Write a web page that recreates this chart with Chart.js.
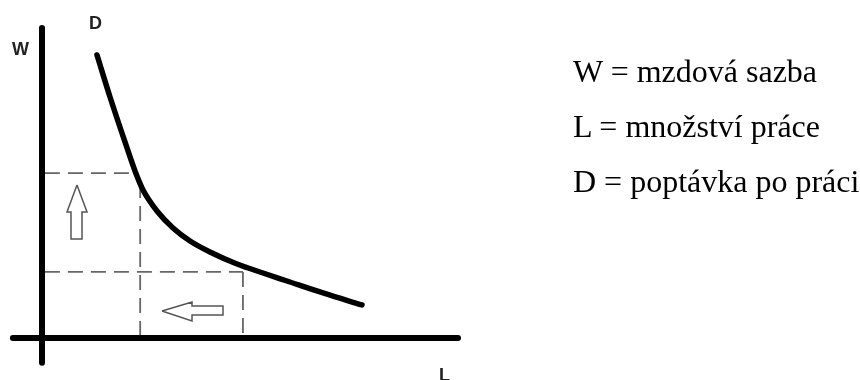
<!DOCTYPE html>
<html>
<head>
<meta charset="utf-8">
<script src="https://cdn.jsdelivr.net/npm/chart.js@4/dist/chart.umd.min.js"></script>
<style>
  html, body { margin: 0; padding: 0; background: #fff; overflow: hidden; }
  #wrap { position: relative; width: 860px; height: 380px; overflow: hidden; }
  canvas { position: absolute; left: 0; top: 0; }
  .lbl { position: absolute; font-family: "Liberation Sans", Arial, sans-serif; font-weight: bold; font-size: 18px; line-height: 18px; color: #222; white-space: nowrap; }
  .leg { position: absolute; left: 573px; font-family: "Liberation Serif", "Times New Roman", serif; font-size: 32px; line-height: 32px; color: #000; white-space: nowrap; }
</style>
</head>
<body>
<div id="wrap">
  <canvas id="c" width="860" height="380"></canvas>
  <div class="lbl" style="left:12px; top:40px;">W</div>
  <div class="lbl" style="left:89px; top:14px;">D</div>
  <div class="lbl" style="left:439px; top:366px;">L</div>
  <div class="leg" style="top:55px;">W = mzdová sazba</div>
  <div class="leg" style="top:110px;">L = množství práce</div>
  <div class="leg" style="top:165px;">D = poptávka po práci</div>
</div>
<script>
// Demand curve D: quantity of labour L vs wage rate W (schematic units 0..100)
const curveL = [13.22, 16.35, 19.95, 22.36, 24.28, 27.64, 31.49, 35.58, 40.38, 46.88, 53.13, 58.89, 67.55, 76.92];
const curveW = [91.29, 77.74, 63.23, 53.87, 47.74, 40.97, 35.48, 31.29, 27.74, 23.87, 20.97, 18.39, 14.52, 10.65];

// Two wage levels and the matching quantities of labour
const wageLevels = [53.2, 21.3];
const labourLevels = [23.6, 48.3];
const guideStartL = 0.7;

// Axis extents
const axisXRange = [-7, 100];
const axisYRange = [-8, 100];

// Arrow outlines (up arrow: wage rises; left arrow: labour falls)
const upArrowL = [8.41, 10.82, 9.62, 9.62, 6.97, 6.97, 6.01, 8.41];
const upArrowW = [49.35, 40.65, 40.65, 31.94, 31.94, 40.65, 40.65, 49.35];
const leftArrowL = [28.85, 36.06, 36.06, 43.51, 43.51, 36.06, 36.06, 28.85];
const leftArrowW = [8.71, 11.61, 10.32, 10.32, 7.42, 7.42, 5.48, 8.71];

const pts = (xs, ys) => xs.map((x, i) => ({ x: x, y: ys[i] }));

const base = { showLine: true, pointRadius: 0, pointHoverRadius: 0, fill: false, clip: false, tension: 0 };

const datasets = [
  Object.assign({}, base, {
    label: 'D', data: pts(curveL, curveW), borderColor: '#000', borderWidth: 5.5,
    cubicInterpolationMode: 'monotone', tension: 0.4, borderCapStyle: 'round', borderJoinStyle: 'round'
  }),
  Object.assign({}, base, {
    label: 'x-axis', data: [{ x: axisXRange[0], y: 0 }, { x: axisXRange[1], y: 0 }],
    borderColor: '#000', borderWidth: 6, borderCapStyle: 'round'
  }),
  Object.assign({}, base, {
    label: 'y-axis', data: [{ x: 0, y: axisYRange[0] }, { x: 0, y: axisYRange[1] }],
    borderColor: '#000', borderWidth: 6, borderCapStyle: 'round'
  }),
  Object.assign({}, base, {
    label: 'W1', data: [{ x: guideStartL, y: wageLevels[0] }, { x: labourLevels[0] - 1.2, y: wageLevels[0] }],
    borderColor: '#666', borderWidth: 1.8, borderDash: [15, 8]
  }),
  Object.assign({}, base, {
    label: 'L1', data: [{ x: labourLevels[0], y: 50.0 }, { x: labourLevels[0], y: 0 }],
    borderColor: '#666', borderWidth: 1.8, borderDash: [15, 8]
  }),
  Object.assign({}, base, {
    label: 'W2', data: [{ x: guideStartL, y: wageLevels[1] }, { x: labourLevels[1], y: wageLevels[1] }],
    borderColor: '#666', borderWidth: 1.8, borderDash: [15, 8]
  }),
  Object.assign({}, base, {
    label: 'L2', data: [{ x: labourLevels[1], y: wageLevels[1] }, { x: labourLevels[1], y: 0 }],
    borderColor: '#666', borderWidth: 1.8, borderDash: [15, 8]
  }),
  Object.assign({}, base, {
    label: 'up', data: pts(upArrowL, upArrowW), borderColor: '#555', borderWidth: 1.5, borderJoinStyle: 'miter'
  }),
  Object.assign({}, base, {
    label: 'left', data: pts(leftArrowL, leftArrowW), borderColor: '#555', borderWidth: 1.5, borderJoinStyle: 'miter'
  })
];

new Chart(document.getElementById('c'), {
  type: 'scatter',
  data: { datasets: datasets },
  options: {
    responsive: false,
    animation: false,
    layout: { padding: { left: 42, right: 402, top: 28, bottom: 42 } },
    plugins: { legend: { display: false }, tooltip: { enabled: false } },
    events: [],
    scales: {
      x: { type: 'linear', min: 0, max: 100, display: false },
      y: { type: 'linear', min: 0, max: 100, display: false }
    }
  }
});
</script>
</body>
</html>
